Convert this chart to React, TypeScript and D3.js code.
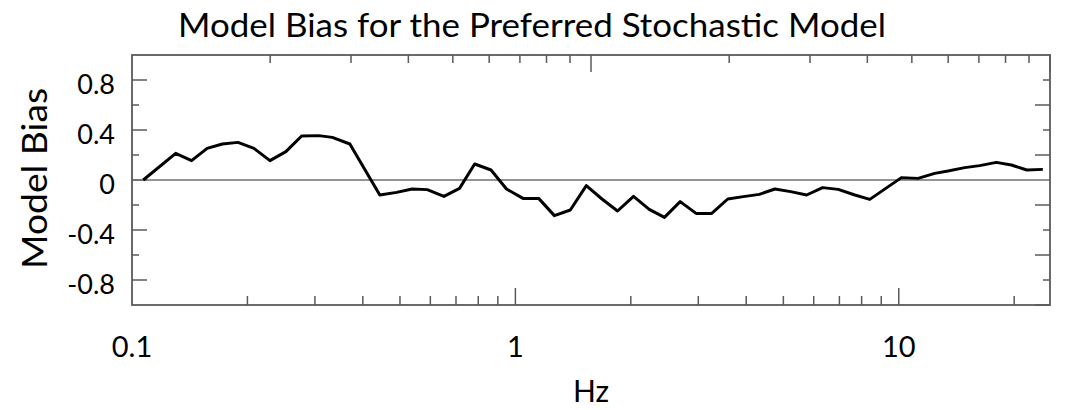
import React, { useRef, useEffect } from "react";
import * as d3 from "d3";

// frequencies (Hz) and model bias
const freqs = [
  0.107, 0.130, 0.143, 0.157, 0.172, 0.189, 0.208, 0.229, 0.252, 0.277,
  0.307, 0.333, 0.370, 0.443, 0.490, 0.538, 0.589, 0.651, 0.715, 0.783,
  0.864, 0.948, 1.047, 1.150, 1.264, 1.391, 1.531, 1.682, 1.847, 2.033,
  2.234, 2.448, 2.690, 2.961, 3.252, 3.580, 3.932, 4.327, 4.754, 5.224,
  5.750, 6.329, 6.950, 7.682, 8.403, 10.16, 11.23, 12.41, 13.44, 14.86,
  16.25, 17.97, 19.66, 21.58, 23.76,
];
const bias = [
  0.0, 0.213, 0.155, 0.253, 0.288, 0.301, 0.253, 0.155, 0.227, 0.352,
  0.355, 0.341, 0.288, -0.12, -0.099, -0.072, -0.077, -0.131, -0.067, 0.128,
  0.08, -0.072, -0.147, -0.147, -0.285, -0.24, -0.045, -0.152, -0.248, -0.131,
  -0.235, -0.299, -0.173, -0.267, -0.267, -0.152, -0.133, -0.115, -0.072, -0.093,
  -0.12, -0.061, -0.075, -0.12, -0.155, 0.019, 0.013, 0.053, 0.072, 0.099,
  0.115, 0.141, 0.12, 0.08, 0.085,
];

const yLabelTicks = [0.8, 0.4, 0, -0.4, -0.8];
const yMinorTicks = [0.6, 0.2, -0.2, -0.6];
const xLabelTicks = [0.1, 1, 10];
const title = "Model Bias for the Preferred Stochastic Model";
const xTitle = "Hz";
const yTitle = "Model Bias";

const W = 1065;
const H = 410;
const frame = { left: 132, right: 1050, top: 55, bottom: 305 };
const font = "Lato, 'Open Sans', sans-serif";
const axisColor = "#5a5a5a";

const App = () => {
  const svgRef = useRef<SVGSVGElement>(null);

  useEffect(() => {
    document.body.style.margin = "0";
    drawChart();
  }, []);

  const drawChart = () => {
    const svg = d3.select(svgRef.current);
    svg.selectAll("*").remove();

    const x = d3.scaleLog().domain([0.1, 24.8]).range([frame.left, frame.right]);
    // the top axis of the original is on its own log scale
    const xTop = d3.scaleLog().domain([1, 100]).range([frame.left, frame.right]);
    const y = d3.scaleLinear().domain([-1, 1]).range([frame.bottom, frame.top]);

    const isDecade = (v: number) => Math.abs(Math.log10(v) - Math.round(Math.log10(v))) < 1e-6;

    const ticks = svg.append("g")
      .attr("stroke", axisColor)
      .attr("stroke-width", 1.5);

    // bottom ticks, pointing up
    x.ticks().filter(v => v > 0.1).forEach(v => {
      const len = isDecade(v) ? 17 : 9;
      ticks.append("line")
        .attr("x1", x(v)).attr("x2", x(v))
        .attr("y1", frame.bottom).attr("y2", frame.bottom - len);
    });

    // top ticks, pointing down
    xTop.ticks().filter(v => v > 1).forEach(v => {
      const len = isDecade(v) ? 17 : 8;
      ticks.append("line")
        .attr("x1", xTop(v)).attr("x2", xTop(v))
        .attr("y1", frame.top).attr("y2", frame.top + len);
    });

    // left ticks
    yLabelTicks.forEach(v => {
      ticks.append("line")
        .attr("x1", frame.left).attr("x2", frame.left + 15)
        .attr("y1", y(v)).attr("y2", y(v));
    });
    yMinorTicks.forEach(v => {
      ticks.append("line")
        .attr("x1", frame.left).attr("x2", frame.left + 7)
        .attr("y1", y(v)).attr("y2", y(v));
    });

    // right ticks (long and short swapped in the original)
    yLabelTicks.filter(v => v !== 0).forEach(v => {
      ticks.append("line")
        .attr("x1", frame.right).attr("x2", frame.right - 7)
        .attr("y1", y(v)).attr("y2", y(v));
    });
    yMinorTicks.concat([-1]).forEach(v => {
      ticks.append("line")
        .attr("x1", frame.right).attr("x2", frame.right - 15)
        .attr("y1", y(v)).attr("y2", y(v));
    });

    // zero line
    svg.append("line")
      .attr("x1", frame.left).attr("x2", frame.right)
      .attr("y1", y(0)).attr("y2", y(0))
      .attr("stroke", "#707070")
      .attr("stroke-width", 1.6);

    // frame
    svg.append("rect")
      .attr("x", frame.left).attr("y", frame.top)
      .attr("width", frame.right - frame.left)
      .attr("height", frame.bottom - frame.top)
      .attr("fill", "none")
      .attr("stroke", axisColor)
      .attr("stroke-width", 1.8);

    // data line
    const line = d3.line<number>()
      .x((_, i) => x(freqs[i]))
      .y(d => y(d));

    svg.append("path")
      .datum(bias)
      .attr("d", line)
      .attr("fill", "none")
      .attr("stroke", "#000")
      .attr("stroke-width", 3)
      .attr("stroke-linejoin", "round");

    // y tick labels
    svg.append("g")
      .selectAll("text")
      .data(yLabelTicks)
      .join("text")
      .attr("x", 115)
      .attr("y", d => y(d) + 14)
      .attr("text-anchor", "end")
      .attr("font-family", font)
      .attr("font-size", 27)
      .text(d => d === 0 ? "0" : d3.format(".1f")(d).replace("\u2212", "-"));

    // x tick labels
    svg.append("g")
      .selectAll("text")
      .data(xLabelTicks)
      .join("text")
      .attr("x", d => x(d))
      .attr("y", 357)
      .attr("text-anchor", "middle")
      .attr("font-family", font)
      .attr("font-size", 29)
      .text(d => String(d));

    // title
    svg.append("text")
      .attr("x", 178)
      .attr("y", 37)
      .attr("font-family", font)
      .attr("font-size", 32)
      .attr("textLength", 708)
      .attr("lengthAdjust", "spacingAndGlyphs")
      .text(title);

    // axis titles
    svg.append("text")
      .attr("x", (frame.left + frame.right) / 2)
      .attr("y", 402)
      .attr("text-anchor", "middle")
      .attr("font-family", font)
      .attr("font-size", 30)
      .text(xTitle);

    svg.append("text")
      .attr("transform", "translate(47, 269) rotate(-90)")
      .attr("x", 0)
      .attr("y", 0)
      .attr("font-family", font)
      .attr("font-size", 34)
      .attr("textLength", 181)
      .attr("lengthAdjust", "spacingAndGlyphs")
      .text(yTitle);
  };

  return (
    <div>
      <svg ref={svgRef} width={W} height={H} />
    </div>
  );
};

export default App;
